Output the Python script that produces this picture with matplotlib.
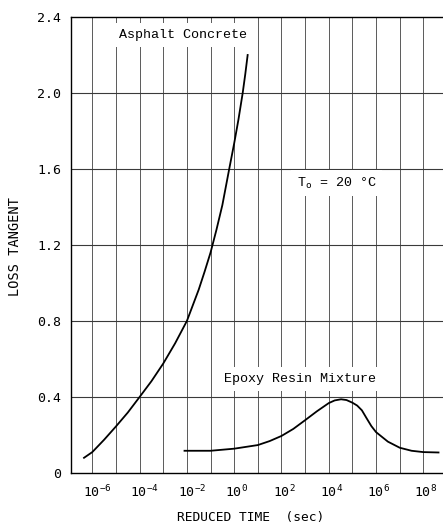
import matplotlib
matplotlib.use("Agg")
import matplotlib.pyplot as plt
import matplotlib.transforms as mtransforms
import numpy as np

# ---- data ----
asphalt_logt = [-6.35, -6.0, -5.5, -5.0, -4.5, -4.0, -3.5, -3.0, -2.5, -2.0, -1.5, -1.25, -1.0,
                -0.75, -0.5, -0.21, 0.0, 0.18, 0.36, 0.47, 0.57]
asphalt_tan = [0.08, 0.11, 0.175, 0.245, 0.318, 0.40, 0.483, 0.576, 0.682, 0.80, 0.965, 1.06, 1.16,
               1.28, 1.41, 1.60, 1.735, 1.86, 2.00, 2.10, 2.20]

epoxy_logt = [-2.1, -1.0, 0.0, 1.0, 1.5, 2.0, 2.5, 3.0, 3.5, 4.0, 4.25, 4.52, 4.75, 5.0,
              5.2, 5.4, 5.6, 5.8, 6.0, 6.5, 7.0, 7.5, 8.0, 8.64]
epoxy_tan = [0.117, 0.117, 0.128, 0.147, 0.168, 0.195, 0.232, 0.278, 0.325, 0.368, 0.382, 0.388,
             0.384, 0.37, 0.355, 0.33, 0.288, 0.247, 0.215, 0.165, 0.133, 0.117, 0.11, 0.108]

y_ticks = [0, 0.4, 0.8, 1.2, 1.6, 2.0, 2.4]
y_tick_labels = ["0", "0.4", "0.8", "1.2", "1.6", "2.0", "2.4"]
x_label_exps = [-6, -4, -2, 0, 2, 4, 6, 8]
x_grid_exps = list(range(-6, 9))

plt.rcParams['mathtext.fontset'] = 'custom'
plt.rcParams['mathtext.rm'] = 'DejaVu Sans Mono'
plt.rcParams['mathtext.it'] = 'DejaVu Sans Mono'

MONO = 'Liberation Mono'
TICKF = 'DejaVu Sans Mono'

fig = plt.figure(figsize=(4.43, 5.25), dpi=100)
W, H = 443, 525
ax = fig.add_axes([71 / W, (H - 473) / H, 1 - 71 / W, (473 - 17) / H])

ax.set_xscale('log')
ax.set_xlim(10 ** -6.9, 10 ** 8.83)
ax.set_ylim(0, 2.4)

# grid
for e in x_grid_exps:
    ax.axvline(10.0 ** e, color='#5a5a5a', lw=0.7, zorder=1)
for y in y_ticks[1:-1]:
    ax.axhline(y, color='#3a3a3a', lw=0.8, zorder=1)

ax.plot(10.0 ** np.array(asphalt_logt), asphalt_tan, color='black', lw=1.3, zorder=5,
        solid_joinstyle='round')
ax.plot(10.0 ** np.array(epoxy_logt), epoxy_tan, color='black', lw=1.3, zorder=5,
        solid_joinstyle='round')

ax.set_yticks(y_ticks)
ax.set_yticklabels(y_tick_labels, fontfamily=TICKF, fontsize=9.5)
ax.set_xticks([10.0 ** e for e in x_label_exps])
ax.set_xticklabels([r'$10^{%d}$' % e for e in x_label_exps], fontsize=9.5)
ax.xaxis.set_minor_locator(matplotlib.ticker.NullLocator())
ax.tick_params(axis='both', length=0)
ax.tick_params(axis='y', pad=7)
ax.tick_params(axis='x', pad=8)

for e, lab in zip(x_label_exps, ax.get_xticklabels()):
    shift = 5.0 if e < 0 else 2.5
    off = mtransforms.ScaledTranslation(shift / 100.0, 0, fig.dpi_scale_trans)
    lab.set_transform(lab.get_transform() + off)

for s in ['left', 'bottom', 'top']:
    ax.spines[s].set_color('black')
    ax.spines[s].set_linewidth(1.0)
ax.spines['right'].set_visible(False)

box = dict(facecolor='white', edgecolor='none', pad=4)


def place(px, py, s, **kw):
    x, y = fig.transFigure.inverted().transform((px, H - py))
    fig.text(x, y, s, ha='center', va='center', **kw)


place(183.3, 35, 'Asphalt Concrete', fontfamily=MONO, fontsize=9.6, bbox=box, zorder=3)
place(300.3, 379, 'Epoxy Resin Mixture', fontfamily=MONO, fontsize=9.6, bbox=box, zorder=3)
place(336.7, 183, r'T$_\mathrm{o}$ = 20 °C', fontfamily=MONO, fontsize=9.6, bbox=box, zorder=3)

place(251, 517, 'REDUCED TIME  (sec)', fontfamily=TICKF, fontsize=9.3)
place(15, 247, 'LOSS TANGENT', fontfamily=TICKF, fontsize=9.8, rotation=90)

fig.savefig('out.png', dpi=100)
